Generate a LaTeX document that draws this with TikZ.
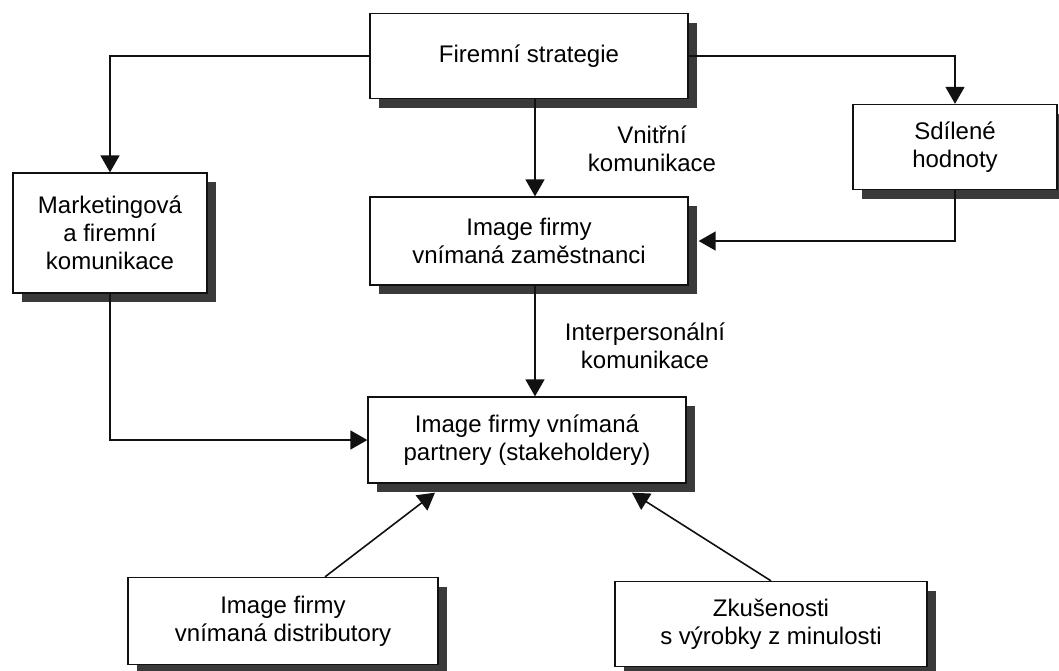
\documentclass[tikz,border=0pt]{standalone}
\usepackage{fontspec}
\setmainfont{Liberation Sans}
\usetikzlibrary{arrows.meta,shadows}

\begin{document}
\begin{tikzpicture}[x=1pt, y=-1pt,
    box/.style={draw=borderColour, fill=white, line width=1.3pt, align=center, inner sep=0pt,
        font=\fontsize{24}{28}\selectfont,
        drop shadow={shadow xshift=9pt, shadow yshift=-9pt, fill=shadowColour, opacity=1}},
    link/.style={draw=borderColour, line width=1.6pt, -{Triangle[length=17pt,width=19pt]}},
    note/.style={align=center, font=\fontsize{24}{28}\selectfont}]
    % Define colours
    \definecolor{borderColour}{HTML}{111111}
    \definecolor{shadowColour}{HTML}{3A3A3A}

    % Fix the picture size
    \useasboundingbox (0,0) rectangle (1059,670);

    % Draw boxes
    \node[box, minimum width=318pt, minimum height=85pt] (strategie) at (529,56) {Firemní strategie};
    \node[box, minimum width=194pt, minimum height=120pt] (marketing) at (110,233) {Marketingová\\a firemní\\komunikace};
    \node[box, minimum width=204pt, minimum height=85pt] (hodnoty) at (955,147) {Sdílené\\hodnoty};
    \node[box, minimum width=318pt, minimum height=88pt] (zamestnanci) at (529,241) {Image firmy\\vnímaná zaměstnanci};
    \node[box, minimum width=318pt, minimum height=86pt] (partneri) at (527,440) {Image firmy vnímaná\\partnery (stakeholdery)};
    \node[box, minimum width=310pt, minimum height=87pt] (distributori) at (283,621) {Image firmy\\vnímaná distributory};
    \node[box, minimum width=312pt, minimum height=85pt] (zkusenosti) at (771,624) {Zkušenosti\\s výrobky z minulosti};

    % Label the communication links
    \node[note] (vnitrni) at (652,149) {Vnitřní\\komunikace};
    \node[note] (interpersonalni) at (645,346) {Interpersonální\\komunikace};

    % Draw arrows
    \draw[link] (strategie.west) -| (marketing.north);
    \draw[link] (strategie.east) -| (hodnoty.north);
    \draw[link] ([xshift=6pt]strategie.south) -- ([xshift=6pt]zamestnanci.north);
    \draw[link] (hodnoty.south) |- ([xshift=10pt]zamestnanci.east);
    \draw[link] ([xshift=6pt]zamestnanci.south) -- ([xshift=6pt]zamestnanci.south |- partneri.north);
    \draw[link] (marketing.south) |- (partneri.west);
    \draw[link] ([xshift=42pt]distributori.north) -- ([xshift=-92pt,yshift=-9pt]partneri.south);
    \draw[link] (zkusenosti.north) -- ([xshift=105pt,yshift=-9pt]partneri.south);

\end{tikzpicture}
\end{document}
